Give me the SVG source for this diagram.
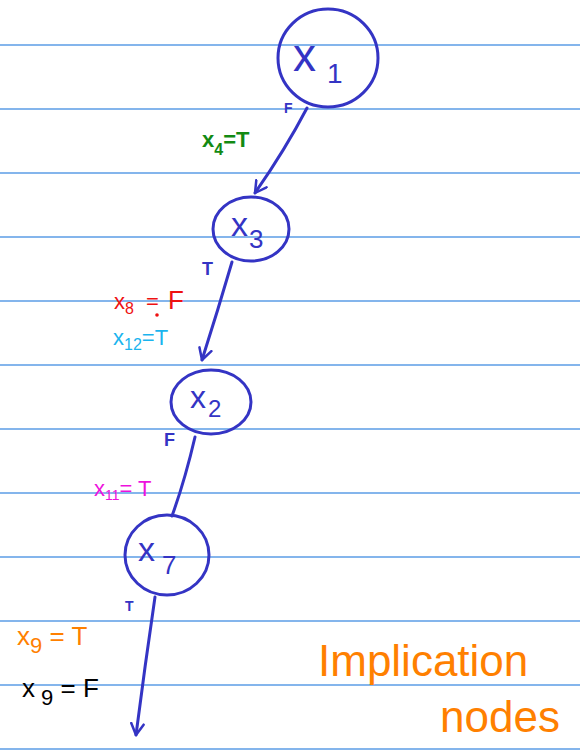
<svg xmlns="http://www.w3.org/2000/svg" width="580" height="751" viewBox="0 0 580 751">
<style>
.rule{stroke:#5b9ce6;stroke-width:1.6}
.node{fill:none;stroke:#3434c4;stroke-width:3}
.edge{fill:none;stroke:#3434c4;stroke-width:3;stroke-linecap:round}
.t{font-family:"Liberation Sans","DejaVu Sans",sans-serif}
.nl{fill:#3434c4}
.blue{fill:#3434c4;font-size:18px;font-weight:bold}
</style>
<defs>
<marker id="arr" viewBox="0 0 12 12" refX="10" refY="6" markerWidth="5" markerHeight="5" orient="auto" markerUnits="strokeWidth">
<path d="M1,1 L10,6 L1,11" fill="none" stroke="#3434c4" stroke-width="2" stroke-linecap="round" stroke-linejoin="round"/>
</marker>
</defs>
<rect width="580" height="751" fill="#ffffff"/>
<g id="rules">
<line class="rule" x1="0" y1="45" x2="580" y2="45"/>
<line class="rule" x1="0" y1="109" x2="580" y2="109"/>
<line class="rule" x1="0" y1="173" x2="580" y2="173"/>
<line class="rule" x1="0" y1="237" x2="580" y2="237"/>
<line class="rule" x1="0" y1="301" x2="580" y2="301"/>
<line class="rule" x1="0" y1="365" x2="580" y2="365"/>
<line class="rule" x1="0" y1="429" x2="580" y2="429"/>
<line class="rule" x1="0" y1="493" x2="580" y2="493"/>
<line class="rule" x1="0" y1="557" x2="580" y2="557"/>
<line class="rule" x1="0" y1="621" x2="580" y2="621"/>
<line class="rule" x1="0" y1="685" x2="580" y2="685"/>
<line class="rule" x1="0" y1="749" x2="580" y2="749"/>
</g>
<g id="connectors">
<path class="edge" d="M307,108 Q285,150 255,193" marker-end="url(#arr)"/>
<path class="edge" d="M232,262 Q218,310 202,360" marker-end="url(#arr)"/>
<path class="edge" d="M195,437 Q185,480 172,516"/>
<path class="edge" d="M155,597 Q145,665 136,735" marker-end="url(#arr)"/>
</g>
<g id="node-x1">
<ellipse class="node" cx="328" cy="58" rx="50" ry="49"/>
<text class="t nl" x="293" y="71" font-size="46">x<tspan font-size="28" x="327" y="83">1</tspan></text>
</g>
<g id="node-x3">
<ellipse class="node" cx="251" cy="229" rx="38" ry="32"/>
<text class="t nl" x="231" y="236" font-size="34">x<tspan font-size="26" x="249" y="248">3</tspan></text>
</g>
<g id="node-x2">
<ellipse class="node" cx="211" cy="402" rx="40" ry="32"/>
<text class="t nl" x="190" y="408" font-size="32">x<tspan font-size="24" x="208" y="417">2</tspan></text>
</g>
<g id="node-x7">
<ellipse class="node" cx="167" cy="555" rx="42" ry="40"/>
<text class="t nl" x="138" y="561" font-size="34">x<tspan font-size="26" x="162" y="574">7</tspan></text>
</g>
<g id="labels">
<text class="t blue" x="284" y="113" style="font-size:14px">F</text>
<text class="t" x="202" y="147" fill="#138a13" font-size="22" font-weight="bold">x<tspan font-size="16" dy="8">4</tspan><tspan dy="-8">=T</tspan></text>
<text class="t blue" x="202" y="275">T</text>
<text class="t" x="114" y="309" fill="#ee1111" font-size="22">x<tspan font-size="16" dy="5">8</tspan><tspan x="146" dy="-5">=</tspan><tspan x="168" font-size="26">F</tspan></text>
<circle cx="157" cy="315" r="1.8" fill="#ee1111"/>
<text class="t" x="113" y="345" fill="#1ab4ee" font-size="22">x<tspan font-size="16" dy="5">12</tspan><tspan dy="-5">=T</tspan></text>
<text class="t blue" x="164" y="446">F</text>
<text class="t" x="94" y="496" fill="#ee11dd" font-size="22">x<tspan font-size="14" dy="4">11</tspan><tspan dy="-4">= T</tspan></text>
<text class="t blue" x="125" y="611" style="font-size:14px">T</text>
<text class="t" x="17" y="645" fill="#ff8000" font-size="26">x<tspan font-size="22" dy="8">9</tspan><tspan dy="-8"> = T</tspan></text>
<text class="t" x="22" y="697" fill="#000000" font-size="26">x<tspan font-size="22" dy="8"> 9</tspan><tspan dy="-8"> = F</tspan></text>
<text class="t" x="318" y="676" fill="#ff8000" font-size="44">Implication</text>
<text class="t" x="440" y="732" fill="#ff8000" font-size="44">nodes</text>
</g>
</svg>
